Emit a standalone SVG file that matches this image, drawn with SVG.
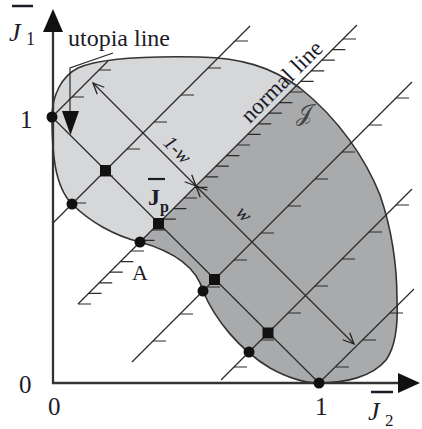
<svg xmlns="http://www.w3.org/2000/svg" width="422" height="429" viewBox="0 0 422 429">
<style>
text{font-family:'Liberation Serif','Times New Roman',Times,serif;fill:#1c1c28}
.it{font-style:italic}
.ln{stroke:#2a2a2a;stroke-width:1.2;fill:none}
.tk{stroke:#2a2a2a;stroke-width:1.2;fill:none}
.ax{stroke:#333;stroke-width:2.3;fill:none}
.dot{fill:#111}
</style>
<defs>
<path id="region" d="M319,383 C345,383 372,377 386,360 C396,346 398,322 397,300 C397,265 392,230 380,195 C366,160 340,120 300,88 C270,66 240,58 200,57 C150,56 100,58 78,68 C62,76 52,95 52,117 C52,150 54,186 72,204 C90,222 115,236 140,242 C165,249 195,262 203,291 C215,320 240,350 270,368 C290,379 305,383 319,383 Z"/>
<clipPath id="darkside"><polygon points="382,0 422,0 422,429 0,429 0,382"/></clipPath>
<marker id="oa" markerUnits="userSpaceOnUse" markerWidth="14" markerHeight="12" refX="12" refY="6" orient="auto-start-reverse"><path d="M1,1 L12,6 L1,11" fill="none" stroke="#222" stroke-width="1.3"/></marker>
</defs>

<g id="region-J">
<use href="#region" fill="#d6d7d9"/>
<use href="#region" fill="#a9aaac" clip-path="url(#darkside)"/>
<use href="#region" fill="none" stroke="#333" stroke-width="1.6"/>
</g>

<g id="connectors">
<line class="ln" x1="52" y1="117" x2="319" y2="383"/>
<line class="ln" x1="52" y1="117" x2="108" y2="61"/>
<line class="ln" x1="53" y1="223" x2="250" y2="26"/>
<line class="ln" x1="78" y1="304" x2="357" y2="25"/>
<line class="ln" x1="132" y1="362" x2="412" y2="82"/>
<line class="ln" x1="221" y1="380" x2="412" y2="189"/>
<line class="ln" x1="319" y1="383" x2="414" y2="289"/>
<path class="tk" d="M72,97h12M99,70h12
M73,203h13M100,176h13M127,149h13M154,122h13M181,95h13M208,68h13M235,41h13
M78,304h13M88.6,293.4h13M99.2,282.8h13M109.8,272.2h13M120.4,261.6h13M131,251h13M141.6,240.4h13M152.2,229.8h13M162.8,219.2h13M173.4,208.6h13M184,198h13M194.6,187.4h13M205.2,176.8h13M215.8,166.2h13M226.4,155.6h13M237,145h13M247.6,134.4h13M258.2,123.8h13M268.8,113.2h13M279.4,102.6h13M290,92h13M300.6,81.4h13M311.2,70.8h13M321.8,60.2h13M332.4,49.6h13M343,39h13
M153,341h13M180,314h13M207,287h13M234,260h13M261,233h13M288,206h13M315,179h13M342,152h13M369,125h13M396,98h13
M234,367h13M261,340h13M288,313h13M315,286h13M342,259h13M369,232h13M396,205h13
M336,367h13M363,340h13M390,313h13"/>
<line class="ln" x1="93" y1="83" x2="196" y2="186" marker-start="url(#oa)" marker-end="url(#oa)"/>
<line class="ln" x1="196" y1="186" x2="354" y2="344" marker-start="url(#oa)" marker-end="url(#oa)"/>
<polyline class="ln" points="113,53 70,68 70,113"/>
<polygon points="62,111 79,111 70.5,135" fill="#111"/>
</g>

<g id="axes">
<line class="ax" x1="53" y1="30" x2="53" y2="384"/>
<line class="ax" x1="52" y1="383" x2="400" y2="383"/>
<polygon points="53,9 43,32 63,32" fill="#111"/>
<polygon points="420,383 398,373 398,393" fill="#111"/>
</g>

<g id="points">
<circle class="dot" cx="52" cy="117" r="5.5"/>
<circle class="dot" cx="72" cy="204" r="5.5"/>
<circle class="dot" cx="140" cy="242" r="5.5"/>
<circle class="dot" cx="203" cy="291" r="5.5"/>
<circle class="dot" cx="249" cy="352" r="5.5"/>
<circle class="dot" cx="319" cy="383" r="5.5"/>
<rect class="dot" x="100" y="165" width="11" height="11"/>
<rect class="dot" x="153" y="218" width="11" height="11"/>
<rect class="dot" x="209" y="274" width="11" height="11"/>
<rect class="dot" x="262.5" y="327.5" width="11" height="11"/>
</g>

<g id="labels" font-family="Liberation Serif, serif">
<line x1="12" y1="6" x2="33" y2="6" stroke="#1c1c28" stroke-width="2.5"/>
<text class="it" x="9" y="41" font-size="26">J</text>
<text x="26" y="45" font-size="18">1</text>
<text x="68" y="46" font-size="24">utopia line</text>
<text x="20" y="128" font-size="25">1</text>
<text x="19" y="393" font-size="25">0</text>
<text x="48" y="415" font-size="25">0</text>
<text x="315" y="415" font-size="25">1</text>
<line x1="371" y1="392" x2="393" y2="392" stroke="#1c1c28" stroke-width="2.5"/>
<text class="it" x="368" y="420" font-size="26">J</text>
<text x="385" y="426" font-size="17">2</text>
<text x="132" y="280" font-size="22">A</text>
<line x1="148" y1="179" x2="165" y2="179" stroke="#1c1c28" stroke-width="2.2"/>
<text x="148" y="205" font-size="24" font-weight="bold">J</text>
<text x="160" y="212" font-size="16" font-weight="bold">p</text>
<text class="it" transform="translate(177,150) rotate(45)" x="0" y="6" font-size="20" text-anchor="middle">1-w</text>
<text class="it" transform="translate(243,215) rotate(45)" x="0" y="5" font-size="20" text-anchor="middle">w</text>
<text transform="translate(282,82) rotate(-45)" x="0" y="7" font-size="23" text-anchor="middle">normal line</text>
<text x="296" y="121" font-size="24" style="fill:#444">𝒥</text>
</g>
</svg>
